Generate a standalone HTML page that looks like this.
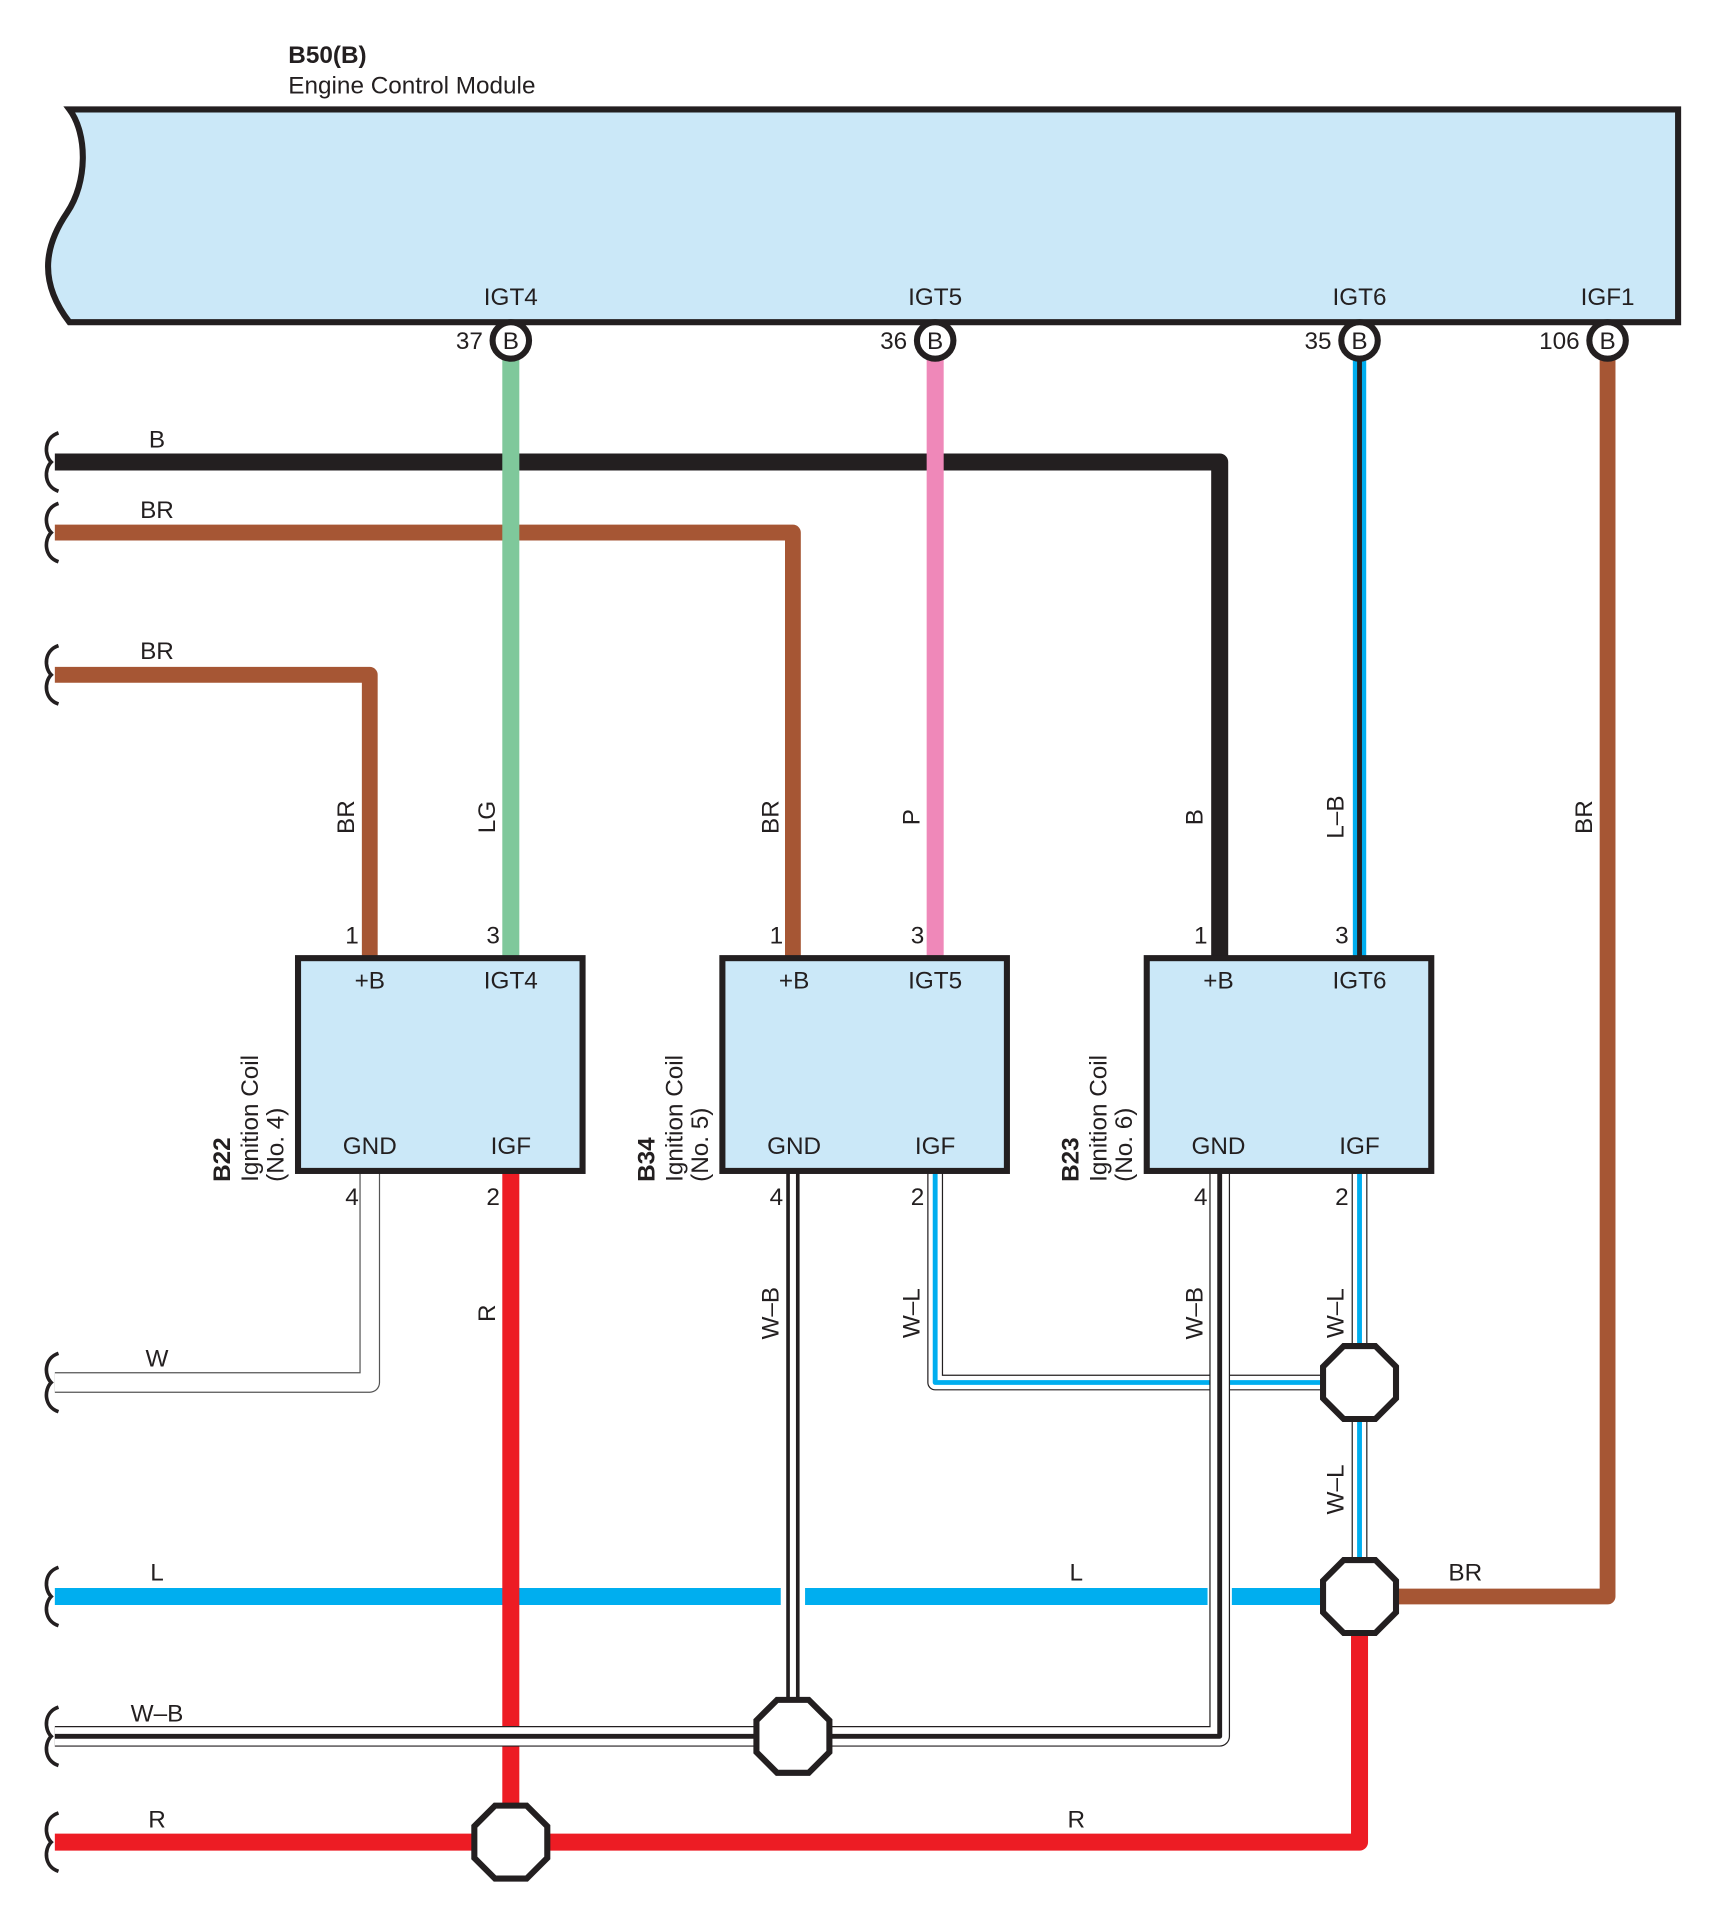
<!DOCTYPE html>
<html><head><meta charset="utf-8"><style>
html,body{margin:0;padding:0;background:#fff}
svg{display:block}
text{font-family:"Liberation Sans",sans-serif;font-size:20px;fill:#231f20}
</style></head><body>
<svg width="1722" height="1909" viewBox="0 0 1416 1570" xmlns="http://www.w3.org/2000/svg">
<defs>
<g id="oct"><polygon points="-13,-30 13,-30 30,-13 30,13 13,30 -13,30 -30,13 -30,-13" fill="#fff" stroke="#231f20" stroke-width="5"/></g>
<path id="brk" d="M48,-24 C36,-20 36,-6 42,0 C36,6 36,20 48,24" fill="none" stroke="#231f20" stroke-width="3"/>
</defs>
<text x="237" y="52" font-weight="bold">B50(B)</text>
<text x="237" y="77">Engine Control Module</text>
<path d="M57,90 L1380,90 L1380,265 L57,265 C30,230 38,200 55,175 C72,150 72,110 57,90 Z" fill="#cbe8f8" stroke="#231f20" stroke-width="5"/>
<g text-anchor="middle">
<text x="420" y="251">IGT4</text><text x="769" y="251">IGT5</text><text x="1118" y="251">IGT6</text><text x="1322" y="251">IGF1</text>
</g>
<g text-anchor="end">
<text x="397" y="287">37</text><text x="746" y="287">36</text><text x="1095" y="287">35</text><text x="1299" y="287">106</text>
</g>
<g fill="none" stroke-linejoin="round">
<path d="M45,380 L1003,380 L1003,788" stroke="#231f20" stroke-width="14"/>
<path d="M45,438 L652,438 L652,788" stroke="#a65634" stroke-width="13"/>
<path d="M45,555 L304,555 L304,788" stroke="#a65634" stroke-width="13"/>
<path d="M420,296 L420,788" stroke="#7fc89b" stroke-width="14"/>
<path d="M769,296 L769,788" stroke="#ef88b9" stroke-width="14"/>
<path d="M1118,296 L1118,788" stroke="#00aeef" stroke-width="11"/>
<path d="M1118,296 L1118,788" stroke="#231f20" stroke-width="4"/>
<path d="M1322,296 L1322,1313 L1150,1313" stroke="#a65634" stroke-width="13"/>
<!-- W -->
<path d="M45,1137 L304,1137 L304,963" stroke="#555" stroke-width="17"/>
<path d="M45,1137 L304,1137 L304,963" stroke="#fff" stroke-width="15"/>
<!-- L horizontal -->
<path d="M45,1313 L642,1313 M662,1313 L993,1313 M1013,1313 L1100,1313" stroke="#00aeef" stroke-width="14"/>
<!-- R -->
<path d="M420,963 L420,1515" stroke="#ed1c24" stroke-width="14"/>
<path d="M45,1515 L1118,1515 L1118,1313" stroke="#ed1c24" stroke-width="14"/>
<!-- W-L -->
<path d="M769,963 L769,1137 L1118,1137 M1118,963 L1118,1313" stroke="#231f20" stroke-width="13"/>
<path d="M769,963 L769,1137 L1118,1137 M1118,963 L1118,1313" stroke="#fff" stroke-width="11"/>
<path d="M769,963 L769,1137 L1118,1137 M1118,963 L1118,1313" stroke="#00aeef" stroke-width="4"/>
<!-- W-B 5 -->
<path d="M652,963 L652,1428" stroke="#231f20" stroke-width="11"/>
<path d="M652,963 L652,1428" stroke="#fff" stroke-width="5"/>
<!-- W-B 6 -->
<path d="M1003,963 L1003,1428 L45,1428" stroke="#231f20" stroke-width="17"/>
<path d="M1003,963 L1003,1428 L45,1428" stroke="#fff" stroke-width="15"/>
<path d="M1003,963 L1003,1428 L45,1428" stroke="#231f20" stroke-width="4"/>
</g>
<g fill="#fff" stroke="#231f20" stroke-width="5">
<circle cx="420" cy="280" r="15"/><circle cx="769" cy="280" r="15"/><circle cx="1118" cy="280" r="15"/><circle cx="1322" cy="280" r="15"/>
</g>
<g text-anchor="middle">
<text x="420" y="287">B</text><text x="769" y="287">B</text><text x="1118" y="287">B</text><text x="1322" y="287">B</text>
</g>
<use href="#brk" transform="translate(0,380)"/><use href="#brk" transform="translate(0,438)"/><use href="#brk" transform="translate(0,555)"/>
<use href="#brk" transform="translate(0,1137)"/><use href="#brk" transform="translate(0,1313)"/><use href="#brk" transform="translate(0,1428)"/><use href="#brk" transform="translate(0,1515)"/>
<g text-anchor="middle">
<text x="129" y="368">B</text><text x="129" y="426">BR</text><text x="129" y="542">BR</text>
<text x="129" y="1124">W</text><text x="129" y="1300">L</text><text x="129" y="1416">W–B</text><text x="129" y="1503">R</text>
<text x="885" y="1300">L</text><text x="885" y="1503">R</text><text x="1205" y="1300">BR</text>
</g>
<g text-anchor="middle">
<text transform="translate(291,672) rotate(-90)">BR</text>
<text transform="translate(407,672) rotate(-90)">LG</text>
<text transform="translate(640,672) rotate(-90)">BR</text>
<text transform="translate(756,672) rotate(-90)">P</text>
<text transform="translate(989,672) rotate(-90)">B</text>
<text transform="translate(1105,672) rotate(-90)">L–B</text>
<text transform="translate(1309,672) rotate(-90)">BR</text>
<text transform="translate(407,1080) rotate(-90)">R</text>
<text transform="translate(640,1080) rotate(-90)">W–B</text>
<text transform="translate(756,1080) rotate(-90)">W–L</text>
<text transform="translate(989,1080) rotate(-90)">W–B</text>
<text transform="translate(1105,1080) rotate(-90)">W–L</text>
<text transform="translate(1105,1225) rotate(-90)">W–L</text>
</g>
<g fill="#cbe8f8" stroke="#231f20" stroke-width="5">
<rect x="245" y="788" width="234" height="175"/><rect x="594" y="788" width="234" height="175"/><rect x="943" y="788" width="234" height="175"/>
</g>
<g text-anchor="middle">
<text x="304" y="813">+B</text><text x="420" y="813">IGT4</text><text x="304" y="949">GND</text><text x="420" y="949">IGF</text>
<text x="653" y="813">+B</text><text x="769" y="813">IGT5</text><text x="653" y="949">GND</text><text x="769" y="949">IGF</text>
<text x="1002" y="813">+B</text><text x="1118" y="813">IGT6</text><text x="1002" y="949">GND</text><text x="1118" y="949">IGF</text>
</g>
<g text-anchor="end">
<text x="295" y="776">1</text><text x="411" y="776">3</text><text x="295" y="991">4</text><text x="411" y="991">2</text>
<text x="644" y="776">1</text><text x="760" y="776">3</text><text x="644" y="991">4</text><text x="760" y="991">2</text>
<text x="993" y="776">1</text><text x="1109" y="776">3</text><text x="993" y="991">4</text><text x="1109" y="991">2</text>
</g>
<g>
<text transform="translate(189,972) rotate(-90)" font-weight="bold">B22</text>
<text transform="translate(212,972) rotate(-90)">Ignition Coil</text>
<text transform="translate(233,972) rotate(-90)">(No. 4)</text>
<text transform="translate(538,972) rotate(-90)" font-weight="bold">B34</text>
<text transform="translate(561,972) rotate(-90)">Ignition Coil</text>
<text transform="translate(582,972) rotate(-90)">(No. 5)</text>
<text transform="translate(887,972) rotate(-90)" font-weight="bold">B23</text>
<text transform="translate(910,972) rotate(-90)">Ignition Coil</text>
<text transform="translate(931,972) rotate(-90)">(No. 6)</text>
</g>
<use href="#oct" transform="translate(1118,1137)"/>
<use href="#oct" transform="translate(1118,1313)"/>
<use href="#oct" transform="translate(652,1428)"/>
<use href="#oct" transform="translate(420,1515)"/>
</svg>
</body></html>
